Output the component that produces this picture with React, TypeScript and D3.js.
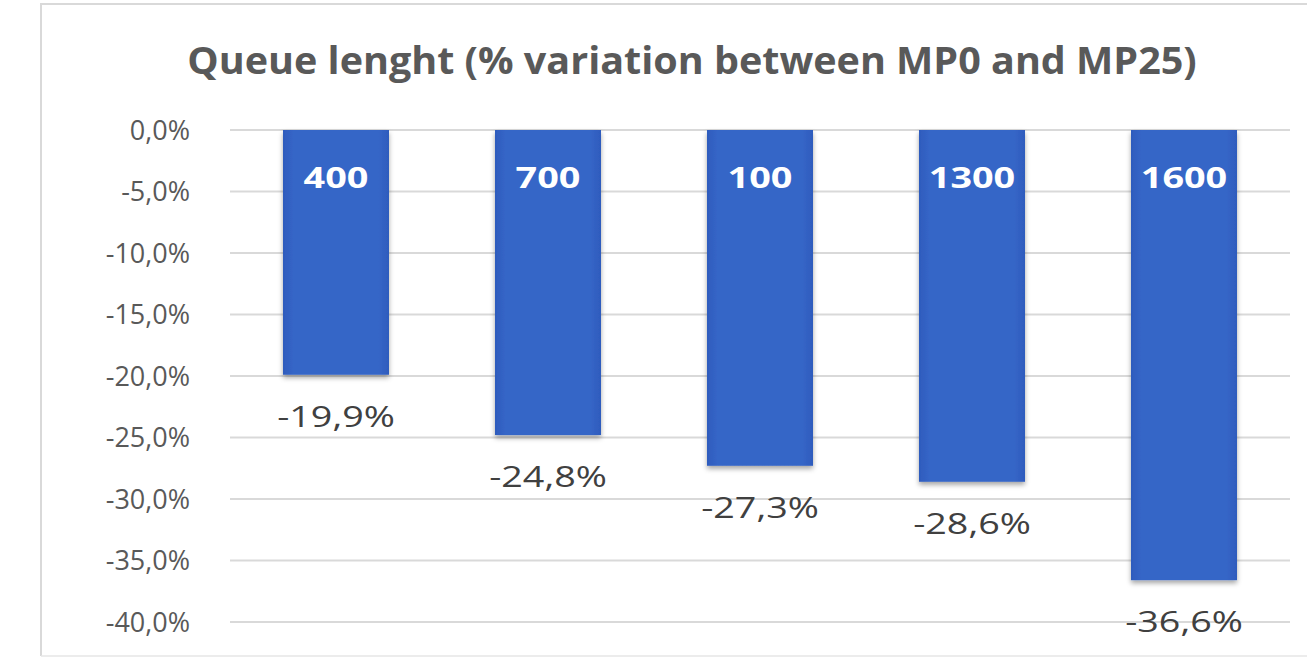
import React from "react";
import * as d3 from "d3";

const categories = ["400", "700", "100", "1300", "1600"];
const values = [-19.9, -24.8, -27.3, -28.6, -36.6];
const yTicks = [0, -5, -10, -15, -20, -25, -30, -35, -40];
const title = "Queue lenght (% variation between MP0 and MP25)";

const W = 1307;
const H = 661;
const plot = { left: 230, right: 1290, top: 130, bottom: 622 };

const fmt = (v: number) => v.toFixed(1).replace(".", ",") + "%";

export default function App() {
  const x = d3
    .scaleBand<string>()
    .domain(categories)
    .range([plot.left, plot.right])
    .paddingInner(0.5)
    .paddingOuter(0.25);
  const y = d3.scaleLinear().domain([0, -40]).range([plot.top, plot.bottom]);
  const font = "'Open Sans', 'DejaVu Sans', sans-serif";

  return (
    <svg
      width={W}
      height={H}
      style={{ position: "absolute", left: 0, top: 0, background: "#fff" }}
    >
      <defs>
        <linearGradient id="barFill" x1="0" x2="1" y1="0" y2="0">
          <stop offset="0%" stopColor="#2e5bbd" />
          <stop offset="10%" stopColor="#3666c7" />
          <stop offset="90%" stopColor="#3666c7" />
          <stop offset="100%" stopColor="#2e5bbd" />
        </linearGradient>
        <filter id="shadow" x="-10%" y="-5%" width="120%" height="115%">
          <feDropShadow dx="0" dy="3" stdDeviation="2.5" floodColor="#000" floodOpacity="0.35" />
        </filter>
      </defs>

      {/* chart frame */}
      <path
        d={`M41,${H - 5} L41,4 L${W + 5},4`}
        fill="none"
        stroke="#d9d9d9"
        strokeWidth={2}
      />
      <line x1={41} x2={W + 5} y1={H - 5} y2={H - 5} stroke="#e6e6e6" strokeWidth={1.5} />

      <text
        transform="translate(692,74) scale(1.04,1)"
        textAnchor="middle"
        fontFamily={font}
        fontWeight={700}
        fontSize={38}
        fill="#595959"
      >
        {title}
      </text>

      {yTicks.map((t) => (
        <g key={t}>
          <line
            x1={plot.left}
            x2={plot.right}
            y1={y(t)}
            y2={y(t)}
            stroke="#d9d9d9"
            strokeWidth={2}
          />
          <text
            x={190}
            y={y(t) + 9.5}
            textAnchor="end"
            fontFamily={font}
            fontSize={27}
            fill="#595959"
          >
            {fmt(t)}
          </text>
        </g>
      ))}

      {categories.map((c, i) => {
        const v = values[i];
        const bx = x(c)!;
        const bw = x.bandwidth();
        const cx = bx + bw / 2;
        return (
          <g key={c}>
            <rect
              x={bx}
              y={y(0)}
              width={bw}
              height={y(v) - y(0)}
              fill="url(#barFill)"
              filter="url(#shadow)"
            />
            <text
              transform={`translate(${cx},${y(0) + 58}) scale(1.35,1)`}
              textAnchor="middle"
              fontFamily={font}
              fontWeight={700}
              fontSize={28}
              fill="#ffffff"
            >
              {c}
            </text>
            <text
              transform={`translate(${cx},${y(v) + 52}) scale(1.3,1)`}
              textAnchor="middle"
              fontFamily={font}
              fontSize={29}
              fill="#404040"
            >
              {fmt(v)}
            </text>
          </g>
        );
      })}
    </svg>
  );
}
